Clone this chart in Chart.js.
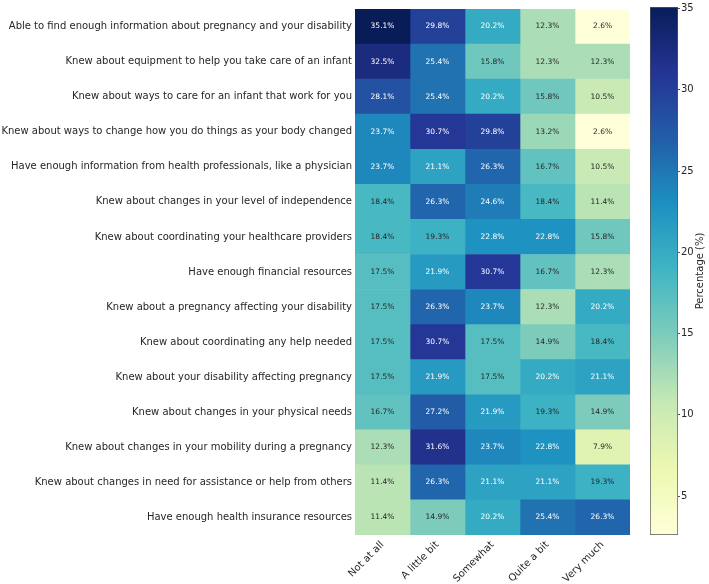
<!DOCTYPE html>
<html>
<head>
<meta charset="utf-8">
<script src="https://cdn.jsdelivr.net/npm/chart.js@4/dist/chart.umd.min.js"></script>
<style>
    html, body { margin: 0; padding: 0; background: #fff; }
    #wrap { position: relative; width: 709px; height: 584px; }
    #heat { position: absolute; left: 0; top: 0; width: 640px; height: 584px; }
    #cbar { position: absolute; left: 640px; top: 0; width: 69px; height: 584px; }
</style>
</head>
<body>
<div id="wrap">
    <div id="heat"><canvas id="heatmap"></canvas></div>
    <div id="cbar"><canvas id="colorbar"></canvas></div>
</div>
<script>
var rowLabels = [
    "Able to find enough information about pregnancy and your disability",
    "Knew about equipment to help you take care of an infant",
    "Knew about ways to care for an infant that work for you",
    "Knew about ways to change how you do things as your body changed",
    "Have enough information from health professionals, like a physician",
    "Knew about changes in your level of independence",
    "Knew about coordinating your healthcare providers",
    "Have enough financial resources",
    "Knew about a pregnancy affecting your disability",
    "Knew about coordinating any help needed",
    "Knew about your disability affecting pregnancy",
    "Knew about changes in your physical needs",
    "Knew about changes in your mobility during a pregnancy",
    "Knew about changes in need for assistance or help from others",
    "Have enough health insurance resources"
];
var columnLabels = ["Not at all", "A little bit", "Somewhat", "Quite a bit", "Very much"];

var notAtAll   = [35.1, 32.5, 28.1, 23.7, 23.7, 18.4, 18.4, 17.5, 17.5, 17.5, 17.5, 16.7, 12.3, 11.4, 11.4];
var aLittleBit = [29.8, 25.4, 25.4, 30.7, 21.1, 26.3, 19.3, 21.9, 26.3, 30.7, 21.9, 27.2, 31.6, 26.3, 14.9];
var somewhat   = [20.2, 15.8, 20.2, 29.8, 26.3, 24.6, 22.8, 30.7, 23.7, 17.5, 17.5, 21.9, 23.7, 21.1, 20.2];
var quiteABit  = [12.3, 12.3, 15.8, 13.2, 16.7, 18.4, 22.8, 16.7, 12.3, 14.9, 20.2, 19.3, 22.8, 21.1, 25.4];
var veryMuch   = [2.6, 12.3, 10.5, 2.6, 10.5, 11.4, 15.8, 12.3, 20.2, 18.4, 21.1, 14.9, 7.9, 19.3, 26.3];

var colorbarTicks = [5, 10, 15, 20, 25, 30, 35];
var colorbarTitle = "Percentage (%)";

var columns = [notAtAll, aLittleBit, somewhat, quiteABit, veryMuch];
var allValues = [].concat.apply([], columns);
var vmin = Math.min.apply(null, allValues);
var vmax = Math.max.apply(null, allValues);

// cells above this get white text
var whiteTextAbove = 20;

// YlGnBu colormap stops
var ylgnbu = ["#ffffd9", "#edf8b1", "#c7e9b4", "#7fcdbb", "#41b6c4", "#1d91c0", "#225ea8", "#253494", "#081d58"];

function hexToRgb(h) {
    return [parseInt(h.substr(1, 2), 16), parseInt(h.substr(3, 2), 16), parseInt(h.substr(5, 2), 16)];
}

function cmap(v) {
    var t = (v - vmin) / (vmax - vmin);
    t = Math.max(0, Math.min(1, t));
    var pos = t * (ylgnbu.length - 1);
    var i = Math.min(Math.floor(pos), ylgnbu.length - 2);
    var f = pos - i;
    var a = hexToRgb(ylgnbu[i]), b = hexToRgb(ylgnbu[i + 1]);
    return "rgb(" + [0, 1, 2].map(function (k) { return Math.round(a[k] + (b[k] - a[k]) * f); }).join(",") + ")";
}

var FONT = "'DejaVu Sans', sans-serif";

var datasets = columns.map(function (vals, c) {
    return {
        label: columnLabels[c],
        data: vals.map(function () { return [c, c + 1]; }),
        values: vals,
        backgroundColor: vals.map(cmap),
        borderWidth: 0,
        grouped: false,
        barPercentage: 1,
        categoryPercentage: 1
    };
});

var cellLabels = {
    id: "cellLabels",
    afterDatasetsDraw: function (chart) {
        var ctx = chart.ctx;
        ctx.save();
        ctx.font = "7.5px " + FONT;
        ctx.textAlign = "center";
        ctx.textBaseline = "middle";
        chart.data.datasets.forEach(function (ds, di) {
            chart.getDatasetMeta(di).data.forEach(function (el, i) {
                var p = el.getCenterPoint();
                var v = ds.values[i];
                ctx.fillStyle = v > whiteTextAbove ? "#ffffff" : "#262626";
                ctx.fillText(v.toFixed(1) + "%", p.x, p.y);
            });
        });
        ctx.restore();
    }
};

new Chart(document.getElementById("heatmap"), {
    type: "bar",
    data: { labels: rowLabels, datasets: datasets },
    options: {
        indexAxis: "y",
        responsive: true,
        maintainAspectRatio: false,
        animation: false,
        layout: { padding: { top: 3.5, right: 10, left: 0, bottom: 0 } },
        plugins: { legend: { display: false }, tooltip: { enabled: false } },
        scales: {
            x: {
                type: "linear",
                min: 0,
                max: 5,
                grid: { display: false, drawTicks: false },
                border: { display: false },
                afterBuildTicks: function (scale) {
                    scale.ticks = columnLabels.map(function (_, i) { return { value: i + 0.5 }; });
                },
                afterFit: function (scale) { scale.height = 49; },
                ticks: {
                    minRotation: 45,
                    maxRotation: 45,
                    autoSkip: false,
                    padding: 4,
                    color: "#262626",
                    font: { family: FONT, size: 10 },
                    callback: function (v) { return columnLabels[Math.floor(v)]; }
                }
            },
            y: {
                grid: { display: false, drawTicks: false },
                border: { display: false },
                afterFit: function (scale) { scale.width = 355; },
                ticks: {
                    autoSkip: false,
                    padding: 3,
                    color: "#262626",
                    font: { family: FONT, size: 10 }
                }
            }
        }
    },
    plugins: [cellLabels]
});

var colorbarLabel = {
    id: "colorbarLabel",
    afterDraw: function (chart) {
        var ctx = chart.ctx;
        var area = chart.chartArea;
        ctx.save();
        ctx.translate(60, (area.top + area.bottom) / 2);
        ctx.rotate(-Math.PI / 2);
        ctx.font = "10px " + FONT;
        ctx.fillStyle = "#262626";
        ctx.textAlign = "center";
        ctx.textBaseline = "middle";
        ctx.fillText(colorbarTitle, 0, 0);
        ctx.restore();
    }
};

new Chart(document.getElementById("colorbar"), {
    type: "bar",
    data: {
        labels: [""],
        datasets: [{
            data: [[vmin, vmax]],
            borderColor: "#555",
            borderWidth: 1,
            borderSkipped: false,
            barPercentage: 1,
            categoryPercentage: 1,
            backgroundColor: function (context) {
                var chart = context.chart;
                var area = chart.chartArea;
                if (!area) return null;
                var ys = chart.scales.y;
                var y0 = ys.getPixelForValue(vmin), y1 = ys.getPixelForValue(vmax);
                var g = chart.ctx.createLinearGradient(0, y0, 0, y1);
                ylgnbu.forEach(function (c, i) { g.addColorStop(i / (ylgnbu.length - 1), c); });
                return g;
            }
        }]
    },
    options: {
        responsive: true,
        maintainAspectRatio: false,
        animation: false,
        layout: { padding: { top: 3.5, left: 10, right: 0, bottom: 49 } },
        plugins: { legend: { display: false }, tooltip: { enabled: false } },
        scales: {
            x: { display: false },
            y: {
                position: "right",
                min: vmin,
                max: vmax,
                afterBuildTicks: function (scale) {
                    scale.ticks = colorbarTicks.map(function (v) { return { value: v }; });
                },
                afterFit: function (scale) { scale.width = 31; },
                grid: { drawOnChartArea: false, tickLength: 2, color: "#555" },
                border: { display: false },
                ticks: {
                    padding: 1,
                    color: "#262626",
                    font: { family: FONT, size: 10 }
                }
            }
        }
    },
    plugins: [colorbarLabel]
});
</script>
</body>
</html>
